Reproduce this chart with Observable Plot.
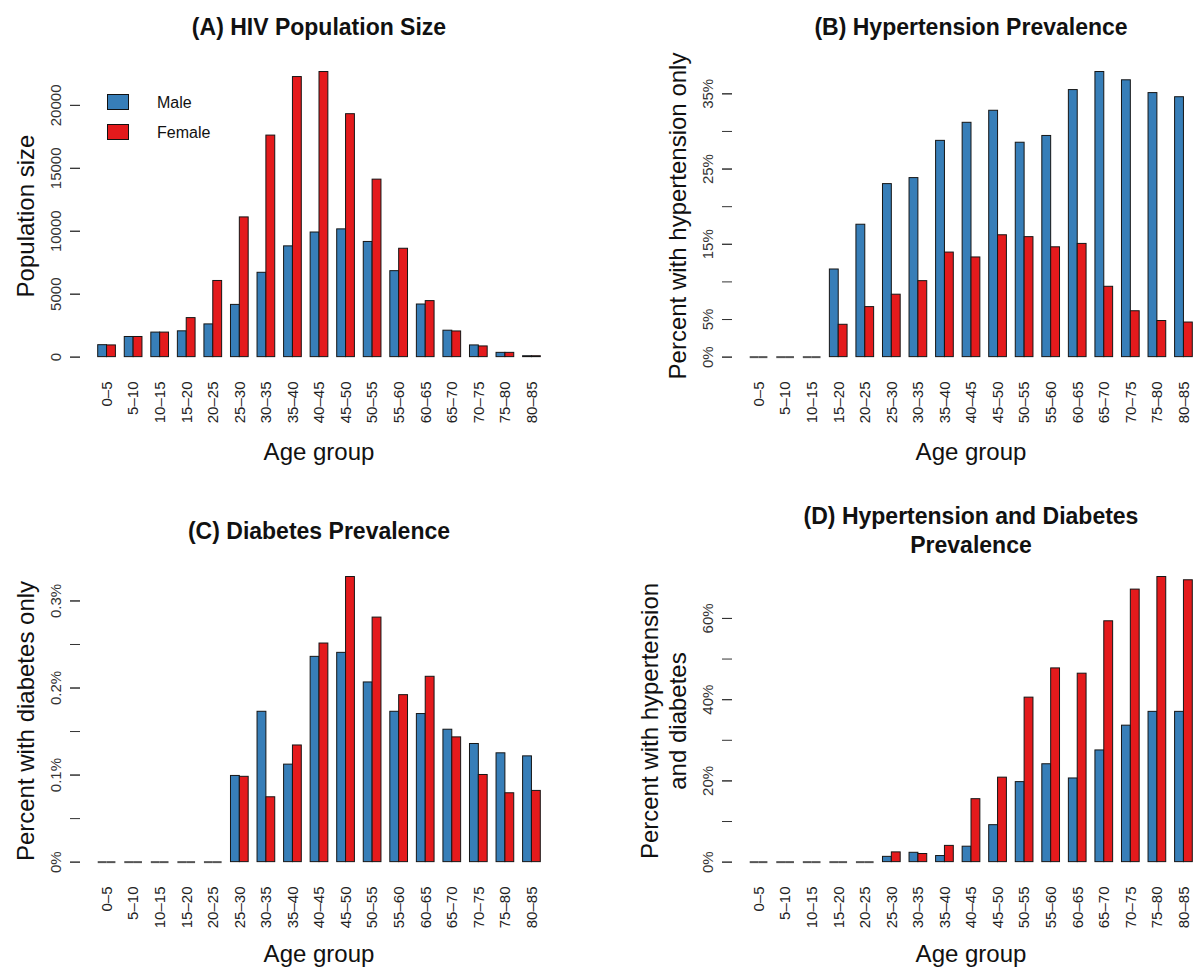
<!DOCTYPE html>
<html><head><meta charset="utf-8">
<script src="https://cdn.jsdelivr.net/npm/d3@7"></script>
<script src="https://cdn.jsdelivr.net/npm/@observablehq/plot@0.6"></script>
<style>
body{margin:0;background:#fff;}
#root{position:relative;width:1195px;height:970px;overflow:hidden;background:#fff;font-family:"Liberation Sans",Arial,Helvetica,sans-serif;color:#111;}
.abs{position:absolute;}
.title{position:absolute;font-weight:bold;font-size:23px;line-height:29px;text-align:center;white-space:nowrap;transform:translateX(-50%);}
.ylab{position:absolute;font-size:24px;line-height:28px;text-align:center;white-space:nowrap;transform:translate(-50%,-50%) rotate(-90deg);}
.xlab{position:absolute;font-size:24px;line-height:24px;white-space:nowrap;transform:translateX(-50%);}
.leg{position:absolute;font-size:16px;line-height:16px;white-space:nowrap;}
.legbox{position:absolute;width:22px;height:16px;border:1px solid #111;box-sizing:border-box;}
</style></head><body><div id="root"></div>
<script>
// ---------- data ----------
const ageGroups = ["0–5","5–10","10–15","15–20","20–25","25–30","30–35","35–40","40–45","45–50","50–55","55–60","60–65","65–70","70–75","75–80","80–85"];
const sexes = ["Male","Female"];
const sexColors = ["#377EB8","#E41A1C"];

const popMale   = [950,1600,1950,2050,2600,4150,6700,8800,9900,10150,9150,6830,4180,2100,930,340,70];
const popFemale = [930,1600,1950,3100,6050,11100,17600,22250,22650,19300,14100,8610,4450,2040,850,340,70];

const htnMale   = [0,0,0,11.65,17.6,23.0,23.8,28.75,31.15,32.75,28.5,29.4,35.5,37.9,36.8,35.1,34.55];
const htnFemale = [0,0,0,4.3,6.65,8.3,10.1,13.9,13.25,16.2,15.95,14.6,15.05,9.35,6.1,4.8,4.6];

const diabMale   = [0,0,0,0,0,0.099,0.1727,0.112,0.2358,0.2404,0.2064,0.1727,0.1701,0.1521,0.1357,0.125,0.1215];
const diabFemale = [0,0,0,0,0,0.098,0.0745,0.134,0.2511,0.3275,0.2809,0.1918,0.2129,0.1433,0.1001,0.0791,0.0818];

const bothMale   = [0,0,0,0,0,1.3,2.3,1.5,3.8,9.1,19.7,24.1,20.6,27.5,33.6,37.0,37.0];
const bothFemale = [0,0,0,0,0,2.4,2.0,4.0,15.5,20.8,40.5,47.7,46.4,59.3,67.1,70.2,69.4];

const popTicks = [0,5000,10000,15000,20000];
const popTickLabels = [0,5000,10000,15000,20000];
const htnTicks = [0,5,10,15,20,25,30,35];
const htnTickLabels = [0,5,15,25,35];
const diabTicks = [0,0.05,0.1,0.15,0.2,0.25,0.3];
const diabTickLabels = [0,0.1,0.2,0.3];
const bothTicks = [0,10,20,30,40,50,60];
const bothTickLabels = [0,20,40,60];

const titles = ["(A) HIV Population Size","(B) Hypertension Prevalence","(C) Diabetes Prevalence","(D) Hypertension and Diabetes\nPrevalence"];
const yLabels = ["Population size","Percent with hypertension only","Percent with diabetes only","Percent with hypertension\nand diabetes"];
const xLabel = "Age group";

// ---------- layout ----------
const cols = [
  {regionLeft: 80, regionRight: 558, svgLeft: 0, svgWidth: 600},
  {regionLeft: 732, regionRight: 1210, svgLeft: 600, svgWidth: 595}
];
const rowsL = [
  {regionTop: 60, regionBottom: 371, svgTop: 0, svgHeight: 485, titleBase: 34, xlabBase: 460},
  {regionTop: 565, regionBottom: 876, svgTop: 485, svgHeight: 485, titleBase: 538, xlabBase: 962}
];

const root = document.getElementById("root");
const FONT = "Liberation Sans, Arial, Helvetica, sans-serif";

function makePanel(idx, male, female, ticks, tickLabels, fmt) {
  const col = cols[idx % 2], row = rowsL[Math.floor(idx / 2)];
  const u = (col.regionRight - col.regionLeft) / 54;
  const table = ageGroups.flatMap((age, i) => [
    {age, sex: sexes[0], value: male[i]},
    {age, sex: sexes[1], value: female[i]}
  ]);
  const mx = d3.max(table, d => d.value);
  const lo = -0.01 * mx, hi = mx, pad = 0.04 * (hi - lo);
  const marginLeft = col.regionLeft + 2 * u - col.svgLeft;
  const marginRight = col.svgLeft + col.svgWidth - (col.regionRight - 2 * u);
  const marginTop = row.regionTop - row.svgTop;
  const marginBottom = row.svgTop + row.svgHeight - row.regionBottom;

  const chart = Plot.plot({
    width: col.svgWidth, height: row.svgHeight,
    marginLeft, marginRight, marginTop, marginBottom,
    style: {fontFamily: FONT, fontSize: "15px", color: "#222", background: "transparent", overflow: "visible"},
    fx: {domain: ageGroups, paddingInner: 1/3, paddingOuter: 0, round: false, axis: null, label: null},
    x: {domain: sexes, padding: 0, round: false, axis: null, label: null},
    y: {domain: [lo - pad, hi + pad], axis: null, label: null},
    color: {domain: sexes, range: sexColors},
    marks: [
      Plot.barY(table, {fx: "age", x: "sex", y: "value", fill: "sex", stroke: "#161616", strokeWidth: 1}),
      Plot.tickY(table.filter(d => d.value === 0), {fx: "age", x: "sex", y: "value", stroke: "#555", strokeWidth: 2}),
      Plot.ruleX([d3.max(ticks)], {y1: 0, y2: d => d, dx: -3 * u, stroke: "#333", strokeWidth: 1, facetAnchor: "left"}),
      Plot.axisY({ticks, tickSize: 10, tickFormat: () => "", dx: -2 * u, label: null, stroke: "#333"}),
      Plot.axisY({ticks: tickLabels, tickSize: 10, tickPadding: 10, tickRotate: -90, tickFormat: fmt, dx: -2 * u, label: null, fontSize: 15, fill: "#333", stroke: "#333"}),
      Plot.axisFx({anchor: "bottom", tickSize: 0, tickPadding: 10, tickRotate: -90, label: null, fontSize: 15, fill: "#222"})
    ]
  });
  const holder = document.createElement("div");
  holder.className = "abs";
  holder.style.left = col.svgLeft + "px";
  holder.style.top = row.svgTop + "px";
  holder.appendChild(chart);
  root.appendChild(holder);

  const cx = (col.regionLeft + col.regionRight) / 2;
  // title
  const lines = titles[idx].split("\n");
  const t = document.createElement("div");
  t.className = "title";
  t.style.left = cx + "px";
  t.style.top = (row.titleBase - 21 - (lines.length - 1) * 15) + "px";
  t.innerHTML = lines.join("<br>");
  root.appendChild(t);
  // y label
  const yl = document.createElement("div");
  yl.className = "ylab";
  const ylines = yLabels[idx].split("\n");
  yl.innerHTML = ylines.join("<br>");
  yl.style.left = (col.regionLeft - 54 - (ylines.length - 1) * 14) + "px";
  yl.style.top = ((row.regionTop + row.regionBottom) / 2) + "px";
  root.appendChild(yl);
  // x label
  const xl = document.createElement("div");
  xl.className = "xlab";
  xl.textContent = xLabel;
  xl.style.left = cx + "px";
  xl.style.top = (row.xlabBase - 20) + "px";
  root.appendChild(xl);
}

const pct = d => d + "%";
makePanel(0, popMale, popFemale, popTicks, popTickLabels, d => String(d));
makePanel(1, htnMale, htnFemale, htnTicks, htnTickLabels, pct);
makePanel(2, diabMale, diabFemale, diabTicks, diabTickLabels, pct);
makePanel(3, bothMale, bothFemale, bothTicks, bothTickLabels, pct);

// legend in panel A
sexes.forEach((s, i) => {
  const b = document.createElement("div");
  b.className = "legbox";
  b.style.left = "107px";
  b.style.top = (94 + i * 30) + "px";
  b.style.background = sexColors[i];
  root.appendChild(b);
  const t = document.createElement("div");
  t.className = "leg";
  t.style.left = "157px";
  t.style.top = (95 + i * 30) + "px";
  t.textContent = s;
  root.appendChild(t);
});
</script></body></html>
